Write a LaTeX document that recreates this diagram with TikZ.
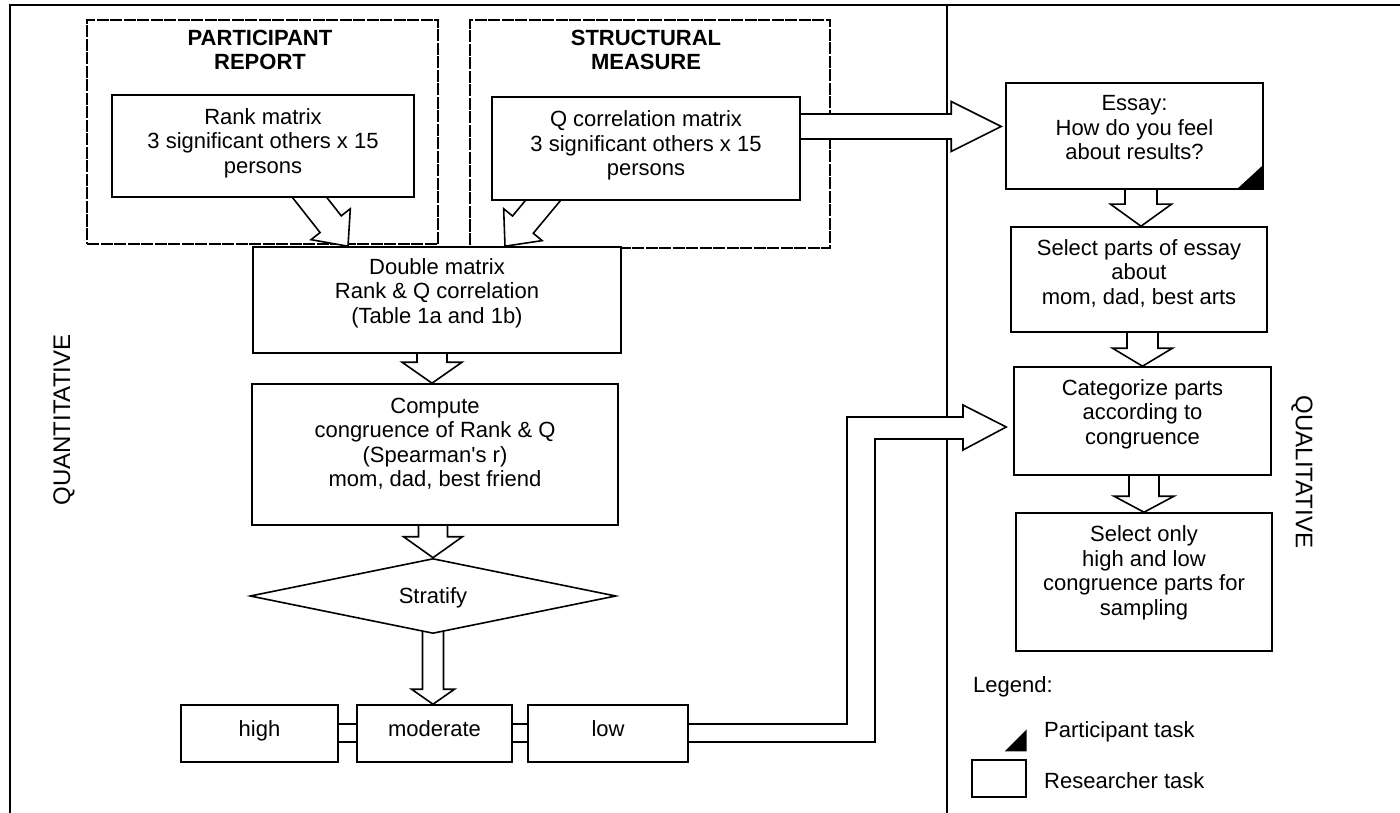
\documentclass[tikz,border=0pt]{standalone}
\usepackage{fontspec}
\setmainfont{Liberation Sans}
\usetikzlibrary{calc,shapes.geometric}
\pgfdeclarelayer{bg}
\pgfdeclarelayer{mid}
\pgfsetlayers{bg,mid,main}
\tikzset{
  box/.style={draw, fill=white, line width=1.6pt, inner sep=0pt},
  grp/.style={draw, line width=1.1pt, dash pattern=on 12pt off 1.5pt, inner sep=0pt},
  txt/.style={align=center, font=\fontsize{22}{24.5}\selectfont, inner sep=0pt},
  hdr/.style={align=center, font=\fontsize{22}{24.5}\selectfont\bfseries, inner sep=0pt},
  side/.style={font=\fontsize{24}{28}\selectfont, inner sep=0pt},
  blk/.style={draw, fill=white, line width=1.6pt, line join=miter},
  frame/.style={line width=1.8pt}
}
% block arrow: start, tip, shaft half width, head half width, head length
\newcommand\blkarrow[5]{%
  \coordinate (bas) at (#1);
  \coordinate (bat) at (#2);
  \coordinate (bab) at ($(bat)!#5!(bas)$);
  \draw[blk] ($(bas)!#3!90:(bat)$) -- ($(bab)!#3!-90:(bas)$) -- ($(bab)!#4!-90:(bas)$) -- (bat)
     -- ($(bab)!#4!90:(bas)$) -- ($(bab)!#3!90:(bas)$) -- ($(bas)!#3!-90:(bat)$) -- cycle;
}
\begin{document}
\begin{tikzpicture}[x=1pt,y=-1pt]
\useasboundingbox (0,0) rectangle (1400,813);

% ---------- boxes ----------
\node[box, minimum width=302pt, minimum height=102pt] (rank) at (263,146) {};
\node[box, minimum width=308pt, minimum height=103pt] (qcor) at (646,148.5) {};
\node[box, minimum width=368pt, minimum height=106pt] (dbl) at (437,300) {};
\node[box, minimum width=366pt, minimum height=141pt] (cmp) at (435,454.5) {};
\node[box, diamond, minimum width=366pt, minimum height=75pt] (strat) at (433,596) {};
\node[box, minimum width=157pt, minimum height=57pt] (high) at (259.5,733.5) {};
\node[box, minimum width=155pt, minimum height=57pt] (mod) at (434.5,733.5) {};
\node[box, minimum width=160pt, minimum height=57pt] (low) at (608,733.5) {};
\node[box, minimum width=257pt, minimum height=106pt] (essay) at (1134.5,136) {};
\node[box, minimum width=256pt, minimum height=105pt] (sel) at (1139,279.5) {};
\node[box, minimum width=257pt, minimum height=108pt] (cat) at (1142.5,421) {};
\node[box, minimum width=256pt, minimum height=138pt] (selonly) at (1144,582) {};
\node[box, line width=1.2pt, minimum width=54pt, minimum height=37pt] (legbox) at (999,778.5) {};

% ---------- texts ----------
\node[txt] (rankt) at ($(rank.center)+(0,-3)$) {Rank matrix\\3 significant others x 15\\persons};
\node[txt] (qcort) at ($(qcor.center)+(0,-3)$) {Q correlation matrix\\3 significant others x 15\\persons};
\node[txt] (dblt) at ($(dbl.center)+(0,-7)$) {Double matrix\\Rank \& Q correlation\\(Table 1a and 1b)};
\node[txt] (cmpt) at ($(cmp.center)+(0,-11)$) {Compute\\congruence of Rank \& Q\\(Spearman\textquotesingle s r)\\mom, dad, best friend};
\node[txt, anchor=base] (stratt) at ($(strat.center)+(0,7)$) {Stratify};
\node[txt, anchor=base] (hight) at ($(high.center)+(0,3)$) {high};
\node[txt, anchor=base] (modt) at ($(mod.center)+(0,3)$) {moderate};
\node[txt, anchor=base] (lowt) at ($(low.center)+(0,3)$) {low};
\node[txt] (essayt) at ($(essay.center)+(0,-8)$) {Essay:\\How do you feel\\about results?};
\node[txt] (selt) at ($(sel.center)+(0,-6.5)$) {Select parts of essay\\about\\mom, dad, best arts};
\node[txt] (catt) at ($(cat.center)+(0,-7)$) {Categorize parts\\according to\\congruence};
\node[txt] (selonlyt) at ($(selonly.center)+(0,-9)$) {Select only\\high and low\\congruence parts for\\sampling};
\node[hdr] (prhdr) at (260,50) {PARTICIPANT\\REPORT};
\node[hdr] (smhdr) at (646,50) {STRUCTURAL\\MEASURE};
\node[side, rotate=90] (quant) at (64,420) {QUANTITATIVE};
\node[side, rotate=-90] (qual) at (1302,472) {QUALITATIVE};
\node[txt, anchor=west] (legt) at (973,687) {Legend:};
\node[txt, anchor=west] (ptask) at (1044,732) {Participant task};
\node[txt, anchor=west] (rtask) at (1044,781) {Researcher task};

% participant-task markers
\fill ($(essay.south east)+(-26,-1.5)$) -- ($(essay.south east)+(-1.5,-1.5)$) -- ($(essay.south east)+(-1.5,-24)$) -- cycle;
\fill ($(legbox.north east)+(-22,-8)$) -- ($(legbox.north east)+(0,-8)$) -- ($(legbox.north east)+(0,-30)$) -- cycle;

% ---------- frames ----------
\begin{pgfonlayer}{bg}
  \draw[frame] (10,813) -- (10,5) -- (1400,5);
  \draw[frame] (947,5) -- (947,813);
  \node[grp, minimum width=351pt, minimum height=224pt] (prgrp) at (262.5,132) {};
  \node[grp, minimum width=360pt, minimum height=228pt] (smgrp) at (650,134) {};
\end{pgfonlayer}

% ---------- block arrows ----------
\begin{pgfonlayer}{mid}
  \blkarrow{$(rank.south)+(39,-10)$}{$(dbl.north)+(-89,0)$}{13.5pt}{25pt}{28pt}
  \blkarrow{$(qcor.south)+(-95,-10)$}{$(dbl.north)+(68,0)$}{13.5pt}{25pt}{28pt}
  \coordinate (qs) at ($(qcor.east)+(-10,-22)$);
  \coordinate (qe) at ($(essay.west|-qs)+(-4,0)$);
  \blkarrow{qs}{qe}{12.5pt}{25pt}{50pt}
  \blkarrow{$(cmp.north|-dbl.south)+(-3,-8)$}{$(cmp.north)+(-3,0)$}{15pt}{30pt}{21pt}
  \blkarrow{$(strat.north|-cmp.south)+(0,-8)$}{strat.north}{14.5pt}{29.5pt}{21pt}
  \blkarrow{$(strat.south)+(0,-12)$}{strat.south|-mod.north}{10.5pt}{21.5pt}{15pt}
  \blkarrow{$(sel.north|-essay.south)+(2,-8)$}{$(sel.north)+(2,0)$}{16pt}{30.5pt}{22pt}
  \blkarrow{$(cat.north|-sel.south)+(0,-8)$}{cat.north}{15.5pt}{30pt}{18pt}
  \blkarrow{$(selonly.north|-cat.south)+(0,-8)$}{selonly.north}{15pt}{30pt}{16pt}
  % connectors in the row
  \draw[blk] ($(high.east)+(-6,-9.5)$) rectangle ($(mod.west)+(6,8.5)$);
  \draw[blk] ($(mod.east)+(-6,-9.5)$) rectangle ($(low.west)+(6,8.5)$);
  % bent arrow low -> categorize
  \coordinate (l1) at ($(low.east)+(-8,-9.5)$);
  \coordinate (l2) at ($(low.east)+(-8,8.5)$);
  \coordinate (bt) at ($(cat.west)+(-7,6)$);
  \draw[blk] (l1) -- (847,724) -- (847,417) -- (963,417) -- (963,405) -- (bt)
     -- (963,450) -- (963,439) -- (875,439) -- (875,742) -- (l2) -- cycle;
\end{pgfonlayer}
\end{tikzpicture}
\end{document}
